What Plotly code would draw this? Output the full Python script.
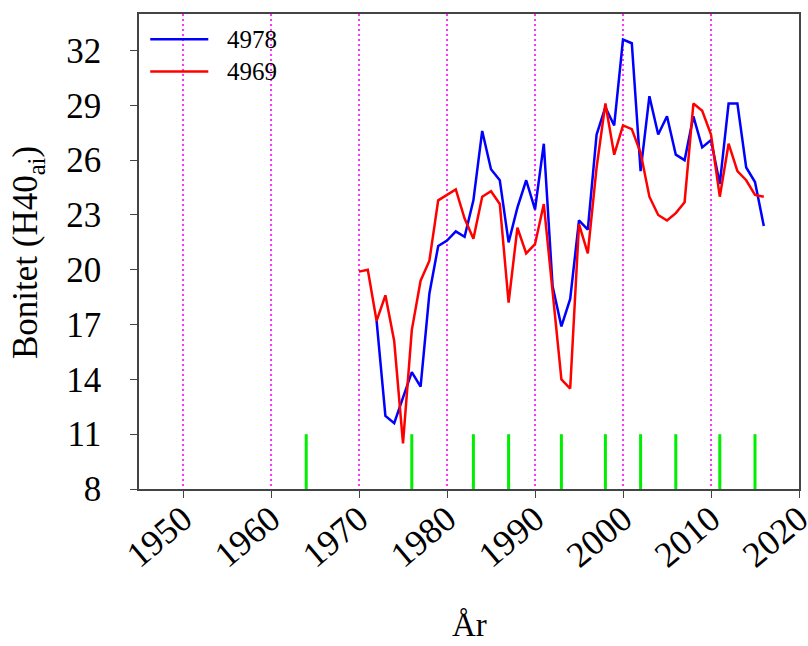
import plotly.graph_objects as go

# Annual site index (Bonitet, H40ai) for two plots
years_4978 = list(range(1972, 2017))
bonitet_4978 = [17.2, 12.0, 11.6, 13.0, 14.4, 13.6, 18.7, 21.3, 21.6, 22.1,
                21.8, 23.8, 27.6, 25.5, 24.9, 21.5, 23.4, 24.9, 23.3, 26.9,
                19.1, 16.9, 18.4, 22.7, 22.2, 27.4, 28.9, 27.9, 32.6, 32.4,
                25.4, 29.5, 27.4, 28.4, 26.3, 26.0, 28.4, 26.7, 27.1, 24.7,
                29.1, 29.1, 25.6, 24.8, 22.4]

years_4969 = list(range(1970, 2017))
bonitet_4969 = [19.9, 20.0, 17.2, 18.6, 16.1, 10.5, 16.7, 19.4, 20.5, 23.8,
                24.1, 24.4, 22.8, 21.7, 24.0, 24.3, 23.6, 18.2, 22.3, 20.9,
                21.4, 23.6, 18.8, 14.0, 13.5, 22.5, 20.9, 25.6, 29.1, 26.3,
                27.9, 27.7, 26.4, 24.0, 23.0, 22.7, 23.1, 23.7, 29.1, 28.7,
                27.4, 24.0, 26.9, 25.4, 24.9, 24.1, 24.0]

# Years marked with green event bars, drawn from the bottom up to 11
event_years = [1964, 1976, 1983, 1987, 1993, 1998, 2002, 2006, 2011, 2015]
event_bottom = 8
event_top = 11

y_ticks = [8, 11, 14, 17, 20, 23, 26, 29, 32]
x_ticks = [1950, 1960, 1970, 1980, 1990, 2000, 2010, 2020]

series = [("4978", "#0000ff"), ("4969", "#ff0000")]

FONT = "Liberation Serif, Times New Roman, serif"

ex, ey = [], []
for yr in event_years:
    ex += [yr, yr, None]
    ey += [event_bottom, event_top, None]

fig = go.Figure()
fig.add_trace(go.Scatter(x=ex, y=ey, mode="lines",
                         line=dict(color="#00ee00", width=3),
                         showlegend=False, hoverinfo="skip"))
fig.add_trace(go.Scatter(x=years_4978, y=bonitet_4978, mode="lines",
                         name=series[0][0], showlegend=False,
                         line=dict(color=series[0][1], width=2.5)))
fig.add_trace(go.Scatter(x=years_4969, y=bonitet_4969, mode="lines",
                         name=series[1][0], showlegend=False,
                         line=dict(color=series[1][1], width=2.5)))

# Key in the upper-left corner: a line sample and a label per series
for i, (label, color) in enumerate(series):
    ky = 0.947 - i * 0.068
    fig.add_shape(type="line", xref="paper", yref="paper",
                  x0=0.017, x1=0.105, y0=ky, y1=ky,
                  line=dict(color=color, width=2.5))
    fig.add_annotation(xref="paper", yref="paper", x=0.13, y=ky,
                       xanchor="left", yanchor="middle", text=label,
                       showarrow=False, font=dict(size=25))

# Axis titles
fig.add_annotation(xref="paper", yref="paper", x=0.5, y=-0.286,
                   xanchor="center", yanchor="middle", text="År",
                   showarrow=False, font=dict(size=33))
fig.add_annotation(xref="paper", yref="paper", x=-0.168, y=0.497,
                   xanchor="center", yanchor="middle", textangle=-90,
                   text="Bonitet (H40<sub>ai</sub>)",
                   showarrow=False, font=dict(size=35))

fig.update_layout(
    width=808, height=646,
    margin=dict(l=139, r=9, t=14, b=157),
    paper_bgcolor="white", plot_bgcolor="white",
    font=dict(family=FONT, size=34, color="black"),
    showlegend=False,
    xaxis=dict(
        range=[1945, 2020], tickvals=x_ticks, tickangle=-40,
        tickfont=dict(size=36), ticklabeloverflow="allow",
        ticks="outside", ticklen=7, tickcolor="#444",
        showline=True, linecolor="#444", linewidth=1.5, mirror=True,
        showgrid=True, gridcolor="#ff33ff", griddash="2px,3px", gridwidth=1.5,
        zeroline=False, ticklabelstandoff=-14, automargin=False,
    ),
    yaxis=dict(
        range=[8, 34], tickvals=y_ticks,
        tickfont=dict(size=35),
        ticks="outside", ticklen=7, tickcolor="#444",
        showline=True, linecolor="#444", linewidth=1.5, mirror=True,
        showgrid=False, zeroline=False, ticklabelstandoff=22,
        automargin=False,
    ),
)

fig.write_html("out.html")
